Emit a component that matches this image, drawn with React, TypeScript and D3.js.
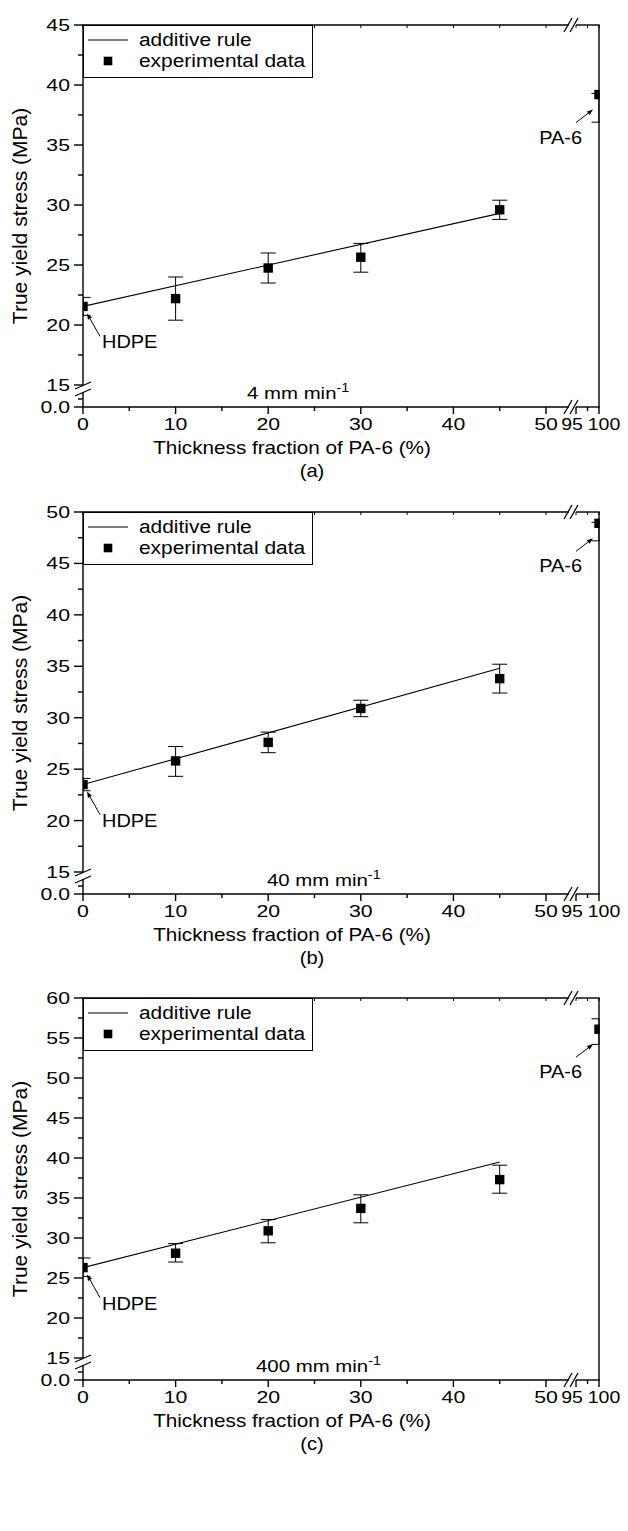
import React from "react";
import * as d3 from "d3";

// ---------- data ----------
const fractions = [0, 10, 20, 30, 45, 100];

const stressA = [21.55, 22.2, 24.75, 25.65, 29.6, 39.2];
const lowA = [20.8, 20.4, 23.5, 24.4, 28.8, 36.9];
const highA = [22.3, 24.0, 26.0, 26.8, 30.4, 39.3];

const stressB = [23.5, 25.8, 27.6, 30.9, 33.8, 48.9];
const lowB = [22.9, 24.3, 26.6, 30.1, 32.4, 47.2];
const highB = [24.1, 27.2, 28.6, 31.7, 35.2, 49.0];

const stressC = [26.3, 28.1, 30.9, 33.7, 37.3, 56.1];
const lowC = [25.2, 27.0, 29.4, 31.9, 35.6, 54.2];
const highC = [27.5, 29.3, 32.3, 35.4, 39.1, 57.4];

const ruleX = [0, 45];
const ruleA = [21.55, 29.3];
const ruleB = [23.5, 34.8];
const ruleC = [26.3, 39.5];

const yMaxes = [45, 50, 60];
const rates = ["4", "40", "400"];
const letters = ["(a)", "(b)", "(c)"];

const xTicksSeg1 = [0, 10, 20, 30, 40, 50];
const xMinorSeg1 = [5, 15, 25, 35, 45];
const xTicksSeg2 = [95, 100];
const xMinorSeg2 = [97.5];

// ---------- layout ----------
const FONT = "'Liberation Sans', Arial, Helvetica, sans-serif";
const LEFT = 83;
const RIGHT = 599;
const tops = [25, 512, 998];
const rateXs = [247, 267, 256];

function Txt({ x, y, size, sx = 1, anchor = "start", children }: any) {
  return (
    <text
      transform={`translate(${x},${y}) scale(${sx},1)`}
      fontSize={size}
      textAnchor={anchor}
      fontFamily={FONT}
      fill="#000"
    >
      {children}
    </text>
  );
}

function Arrow({ x1, y1, x2, y2 }: any) {
  const ang = Math.atan2(y2 - y1, x2 - x1);
  const L = 6, W = 2.3;
  const bx = x2 - L * Math.cos(ang), by = y2 - L * Math.sin(ang);
  const p1 = [bx + W * Math.sin(ang), by - W * Math.cos(ang)];
  const p2 = [bx - W * Math.sin(ang), by + W * Math.cos(ang)];
  return (
    <g>
      <line x1={x1} y1={y1} x2={bx} y2={by} stroke="#000" strokeWidth={1} />
      <path d={`M${x2},${y2}L${p1[0]},${p1[1]}L${p2[0]},${p2[1]}Z`} fill="#000" />
    </g>
  );
}

function Panel({ idx, stress, low, high, rule }: any) {
  const top = tops[idx];
  const yMax = yMaxes[idx];
  const bottom = top + 382;
  const x1 = d3.scaleLinear().domain([0, 50]).range([LEFT, 546]);
  const x2 = d3.scaleLinear().domain([95, 100]).range([576, RIGHT]);
  const xp = (v: number) => (v < 75 ? x1(v) : x2(v));
  const y = d3.scaleLinear().domain([15, yMax]).range([top + 360, top]);
  const majors = d3.range(15, yMax + 0.01, 5);
  const minors = d3.range(17.5, yMax, 5);
  const clipId = `clip${idx}`;
  const line = d3
    .line<number>()
    .x((_, i) => x1(ruleX[i]))
    .y((d) => y(d));
  const pts = fractions.map((f, i) => ({ x: xp(f), y: y(stress[i]), lo: y(low[i]), hi: y(high[i]) }));
  const hd = pts[0];
  const pa = pts[pts.length - 1];
  const allX = [...xTicksSeg1, ...xTicksSeg2];
  const allMinor = [...xMinorSeg1, ...xMinorSeg2];
  const labelShift = (v: number) => (v === 100 ? 5 : v === 95 ? -4 : 0);
  const sw = 1.4;
  return (
    <g>
      <defs>
        <clipPath id={clipId}>
          <rect x={LEFT} y={top} width={RIGHT - LEFT + 0.7} height={bottom - top} />
        </clipPath>
      </defs>
      {/* axes */}
      <line x1={LEFT} y1={top} x2={LEFT} y2={top + 360} stroke="#000" strokeWidth={sw} />
      <line x1={LEFT} y1={top + 367} x2={LEFT} y2={bottom} stroke="#000" strokeWidth={sw} />
      <line x1={RIGHT} y1={top} x2={RIGHT} y2={bottom} stroke="#000" strokeWidth={sw} />
      <line x1={LEFT - 0.7} y1={bottom} x2={569} y2={bottom} stroke="#000" strokeWidth={sw} />
      <line x1={576} y1={bottom} x2={RIGHT + 0.7} y2={bottom} stroke="#000" strokeWidth={sw} />
      <line x1={LEFT - 0.7} y1={top} x2={569} y2={top} stroke="#000" strokeWidth={sw} />
      <line x1={576} y1={top} x2={RIGHT + 0.7} y2={top} stroke="#000" strokeWidth={sw} />
      {/* axis break marks */}
      {[0, 6].map((o) => (
        <line key={"bx" + o} x1={564 + o} y1={bottom + 7} x2={572 + o} y2={bottom - 7} stroke="#000" strokeWidth={1.3} />
      ))}
      {[0, 6].map((o) => (
        <line key={"tx" + o} x1={564 + o} y1={top + 7} x2={572 + o} y2={top - 7} stroke="#000" strokeWidth={1.3} />
      ))}
      {[0, 7].map((o) => (
        <line key={"by" + o} x1={75} y1={top + 364 + o} x2={91} y2={top + 357 + o} stroke="#000" strokeWidth={1.3} />
      ))}
      {/* y ticks */}
      {majors.map((v) => (
        <g key={"ym" + v}>
          <line x1={LEFT - 9} y1={y(v)} x2={LEFT} y2={y(v)} stroke="#000" strokeWidth={sw} />
          <Txt x={LEFT - 13} y={y(v) + 6} size={17} sx={1.25} anchor="end">{v}</Txt>
        </g>
      ))}
      {minors.map((v) => (
        <line key={"yn" + v} x1={LEFT - 5} y1={y(v)} x2={LEFT} y2={y(v)} stroke="#000" strokeWidth={sw} />
      ))}
      <line x1={LEFT - 5} y1={top + 374} x2={LEFT} y2={top + 374} stroke="#000" strokeWidth={sw} />
      <line x1={LEFT - 9} y1={bottom} x2={LEFT} y2={bottom} stroke="#000" strokeWidth={sw} />
      <Txt x={LEFT - 13} y={bottom + 6} size={17} sx={1.25} anchor="end">0.0</Txt>
      {/* x ticks */}
      {allX.map((v) => (
        <g key={"xm" + v}>
          <line x1={xp(v)} y1={bottom} x2={xp(v)} y2={bottom + 7} stroke="#000" strokeWidth={sw} />
          <line x1={xp(v)} y1={top} x2={xp(v)} y2={top + 3} stroke="#000" strokeWidth={1} />
          <Txt x={xp(v) + labelShift(v)} y={bottom + 23} size={17} sx={v >= 95 ? 1.15 : 1.25} anchor="middle">{v}</Txt>
        </g>
      ))}
      {allMinor.map((v) => (
        <g key={"xn" + v}>
          <line x1={xp(v)} y1={bottom} x2={xp(v)} y2={bottom + 4} stroke="#000" strokeWidth={sw} />
          <line x1={xp(v)} y1={top} x2={xp(v)} y2={top + 3} stroke="#000" strokeWidth={1} />
        </g>
      ))}
      {/* titles */}
      <Txt x={292} y={bottom + 47} size={18} sx={1.15} anchor="middle">Thickness fraction of PA-6 (%)</Txt>
      <Txt x={312} y={bottom + 70} size={18} sx={1.12} anchor="middle">{letters[idx]}</Txt>
      <text
        transform={`translate(27,${top + 191}) rotate(-90)`}
        fontSize={21}
        textAnchor="middle"
        fontFamily={FONT}
      >
        True yield stress (MPa)
      </text>
      {/* rate label */}
      <text transform={`translate(${rateXs[idx]},${bottom - 8}) scale(1.2,1)`} fontSize={17} fontFamily={FONT}>
        {rates[idx]} mm min
        <tspan fontSize={12} dy={-7}>-1</tspan>
      </text>
      {/* data */}
      <g clipPath={`url(#${clipId})`}>
        <path d={line(rule) || ""} fill="none" stroke="#000" strokeWidth={1.1} />
        {pts.map((p, i) => (
          <g key={"p" + i}>
            <line x1={p.x} y1={p.lo} x2={p.x} y2={p.hi} stroke="#000" strokeWidth={1} />
            <line x1={p.x - 7.5} y1={p.lo} x2={p.x + 7.5} y2={p.lo} stroke="#000" strokeWidth={1} />
            <line x1={p.x - 7.5} y1={p.hi} x2={p.x + 7.5} y2={p.hi} stroke="#000" strokeWidth={1} />
            <rect x={p.x - 4.7} y={p.y - 4.7} width={9.4} height={9.4} fill="#000" />
          </g>
        ))}
      </g>
      {/* annotations */}
      <Arrow x1={hd.x + 17} y1={hd.y + 30} x2={hd.x + 4} y2={hd.y + 7} />
      <Txt x={hd.x + 19} y={hd.y + 42} size={19} sx={1.05}>HDPE</Txt>
      <Arrow x1={pa.x - 23} y1={pa.y + 28} x2={pa.x - 6} y2={pa.y + 15} />
      <Txt x={pa.x - 17} y={pa.y + 49} size={19} sx={1.05} anchor="end">PA-6</Txt>
      {/* legend */}
      <rect x={LEFT + 0.5} y={top + 0.5} width={229} height={52} fill="#fff" stroke="#000" strokeWidth={1} />
      <line x1={88} y1={top + 15} x2={128} y2={top + 15} stroke="#000" strokeWidth={1.1} />
      <rect x={108 - 4.3} y={top + 36 - 4.3} width={8.6} height={8.6} fill="#000" />
      <Txt x={139} y={top + 21} size={19} sx={1.1}>additive rule</Txt>
      <Txt x={139} y={top + 42} size={19} sx={1.1}>experimental data</Txt>
    </g>
  );
}

export default function App() {
  return (
    <svg
      width={628}
      height={1531}
      style={{ position: "absolute", left: 0, top: 0, background: "#fff" }}
    >
      <rect x={0} y={0} width={628} height={1531} fill="#fff" />
      <Panel idx={0} stress={stressA} low={lowA} high={highA} rule={ruleA} />
      <Panel idx={1} stress={stressB} low={lowB} high={highB} rule={ruleB} />
      <Panel idx={2} stress={stressC} low={lowC} high={highC} rule={ruleC} />
    </svg>
  );
}
